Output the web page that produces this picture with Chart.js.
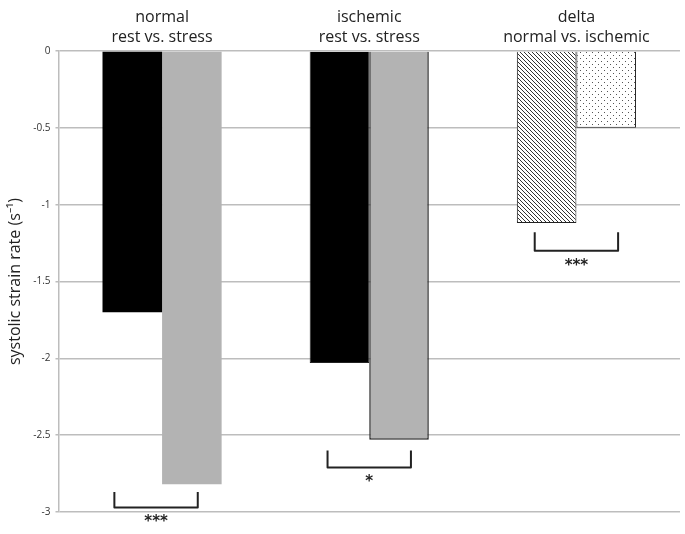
<!DOCTYPE html>
<html>
<head>
<meta charset="utf-8">
<script src="https://cdn.jsdelivr.net/npm/chart.js@4"></script>
<style>
  html, body { margin: 0; padding: 0; background: #fff; }
  #wrap { width: 685px; height: 534px; }
</style>
</head>
<body>
<div id="wrap"><canvas id="strainChart"></canvas></div>
<script>
// group labels (drawn on top axis)
const groups = [
    ['normal', 'rest vs. stress'],
    ['ischemic', 'rest vs. stress'],
    ['delta', 'normal vs. ischemic']
];
// first bar of each group (rest / normal delta) and second bar (stress / ischemic delta)
const firstBar = [-1.70, -2.03, -1.12];
const secondBar = [-2.82, -2.53, -0.50];
// significance brackets: top and bottom in data units, and the star label
const bracketTop = [-2.87, -2.60, -1.18];
const bracketBottom = [-2.97, -2.71, -1.30];
const stars = ['***', '*', '***'];
const yTicks = [0, -0.5, -1, -1.5, -2, -2.5, -3];

function hatchPattern() {
    const c = document.createElement('canvas');
    c.width = 4; c.height = 4;
    const g = c.getContext('2d');
    g.fillStyle = '#fff';
    g.fillRect(0, 0, 4, 4);
    g.strokeStyle = '#333';
    g.lineWidth = 1;
    g.beginPath();
    g.moveTo(-1, -1); g.lineTo(5, 5);
    g.moveTo(-1, 3); g.lineTo(1, 5);
    g.moveTo(3, -1); g.lineTo(5, 1);
    g.stroke();
    return g.createPattern(c, 'repeat');
}

function dotPattern() {
    const c = document.createElement('canvas');
    c.width = 6; c.height = 6;
    const g = c.getContext('2d');
    g.fillStyle = '#fff';
    g.fillRect(0, 0, 6, 6);
    g.fillStyle = '#555';
    g.fillRect(1, 1, 1, 1);
    g.fillRect(4, 4, 1, 1);
    return g.createPattern(c, 'repeat');
}

// draws the significance brackets and stars under each group
const bracketPlugin = {
    id: 'brackets',
    afterDatasetsDraw(chart) {
        const ctx = chart.ctx;
        const y = chart.scales.y;
        const m0 = chart.getDatasetMeta(0).data;
        const m1 = chart.getDatasetMeta(1).data;
        ctx.save();
        ctx.strokeStyle = '#222';
        ctx.lineWidth = 2;
        ctx.lineJoin = 'round';
        ctx.fillStyle = '#222';
        ctx.font = 'bold 15px "DejaVu Sans"';
        ctx.textAlign = 'center';
        ctx.textBaseline = 'middle';
        for (let i = 0; i < stars.length; i++) {
            const center = (m0[i].x + m1[i].x) / 2 - (i === 0 ? 6 : 0);
            const half = m0[i].width * 0.7;
            const top = y.getPixelForValue(bracketTop[i]);
            const bottom = y.getPixelForValue(bracketBottom[i]);
            ctx.beginPath();
            ctx.moveTo(center - half, top);
            ctx.lineTo(center - half, bottom);
            ctx.lineTo(center + half, bottom);
            ctx.lineTo(center + half, top);
            ctx.stroke();
            ctx.fillText(stars[i], center, bottom + 15);
        }
        ctx.restore();
    }
};

const ctx = document.getElementById('strainChart').getContext('2d');
const chart = new Chart(ctx, {
    type: 'bar',
    data: {
        labels: groups,
        datasets: [
            {
                label: 'first',
                data: firstBar,
                backgroundColor: ['#000', '#000', hatchPattern()],
                borderColor: '#222',
                borderWidth: [0, 1, 1]
            },
            {
                label: 'second',
                data: secondBar,
                backgroundColor: ['#b3b3b3', '#b3b3b3', dotPattern()],
                borderColor: '#222',
                borderWidth: [0, 1.5, 1]
            }
        ]
    },
    options: {
        responsive: true,
        maintainAspectRatio: false,
        animation: false,
        layout: { padding: { top: 3, right: 5, bottom: 22, left: 0 } },
        datasets: {
            bar: { categoryPercentage: 0.575, barPercentage: 1 }
        },
        plugins: {
            legend: { display: false },
            tooltip: { enabled: false }
        },
        scales: {
            x: {
                position: 'top',
                grid: { display: false, drawTicks: false },
                border: { display: false },
                ticks: {
                    color: '#222',
                    padding: 4,
                    font: { family: 'Open Sans', size: 16, lineHeight: 1.25 },
                    maxRotation: 0
                }
            },
            y: {
                min: -3,
                max: 0,
                afterBuildTicks(axis) {
                    axis.ticks = yTicks.map(v => ({ value: v }));
                },
                grid: { color: '#bdbdbd', lineWidth: 1.5, tickLength: 3 },
                border: { color: '#bdbdbd', width: 1.5 },
                ticks: {
                    color: '#333',
                    padding: 5,
                    font: { family: 'Open Sans', size: 10 },
                    callback: v => String(v)
                },
                title: {
                    display: true,
                    text: 'systolic strain rate (s⁻¹)',
                    color: '#222',
                    padding: { top: 6, bottom: 3 },
                    font: { family: 'Open Sans', size: 16 }
                }
            }
        }
    },
    plugins: [bracketPlugin]
});
</script>
</body>
</html>
